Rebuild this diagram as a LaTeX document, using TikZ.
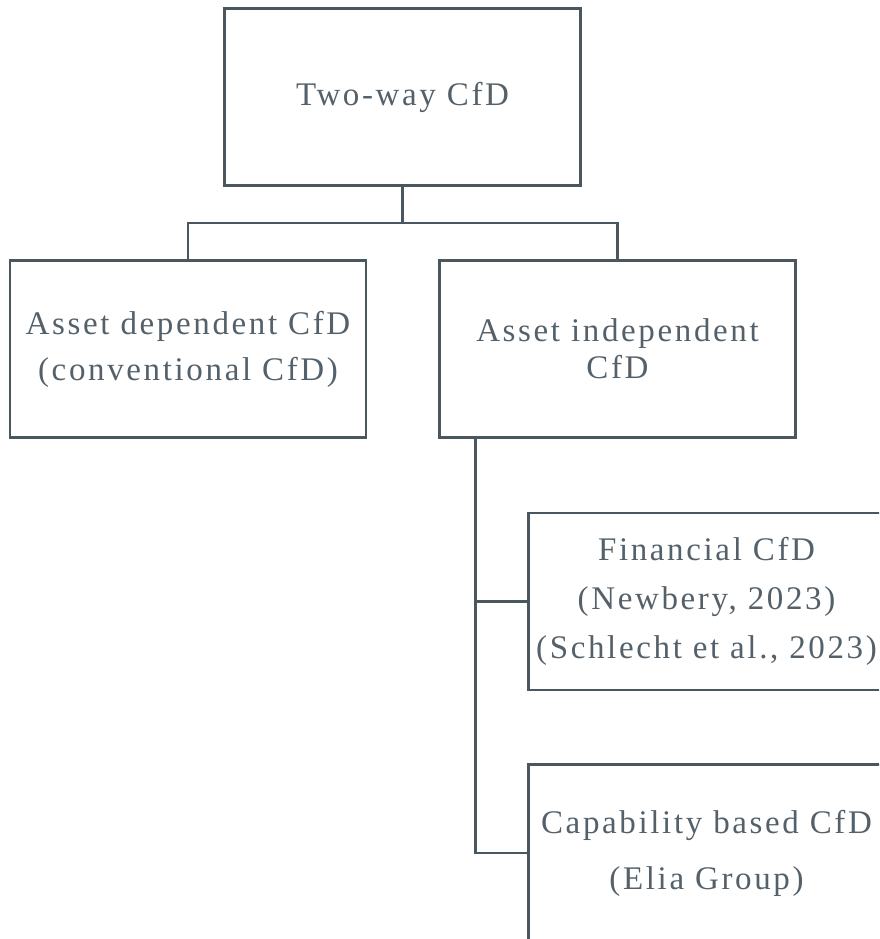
\documentclass[tikz,border=0pt]{standalone}
\usepackage{fontspec}
\setmainfont{Liberation Serif}[LetterSpace=8]
\usepackage{xcolor}
\usepackage{tikz}

\definecolor{cfdline}{HTML}{4B575E}
\definecolor{cfdtext}{HTML}{55616A}
\tikzset{
	cfdbox/.style={draw=cfdline, line width=2.5pt, rectangle, inner sep=0pt,
		minimum width=356pt, minimum height=177pt, align=center, text=cfdtext},
	cfdlink/.style={draw=cfdline, line width=2.5pt},
}

\begin{document}
\begin{tikzpicture}[x=1pt,y=-1pt]
				\useasboundingbox (0,0) rectangle (879,939);
				\clip (0,0) rectangle (879,939);
				
				% top level
				\node[cfdbox, font=\fontsize{33}{37}\selectfont] (twoway) at (402.5,97) {Two-way CfD};
				
				% second level
				\node[cfdbox, font=\fontsize{33}{46}\selectfont] (dep) at (188,349)
					{Asset dependent CfD\\(conventional CfD)};
				\node[cfdbox, font=\fontsize{33}{37}\selectfont] (indep) at (617.5,349)
					{Asset independent\\CfD};
				
				% third level (cut off at the right)
				\node[cfdbox, font=\fontsize{33}{49}\selectfont] (fin) at (706.5,601.5)
					{Financial CfD\\(Newbery, 2023)\\(Schlecht et al., 2023)};
				\node[cfdbox, font=\fontsize{33}{56}\selectfont] (cap) at (706.5,853)
					{Capability based CfD\\(Elia Group)};
				
				\draw[cfdlink] (twoway.south) -- ++(0,36) coordinate (split);
				\draw[cfdlink] (dep.north) |- (split) -| (indep.north);
				
				\coordinate (trunk) at ([xshift=37pt]indep.south west);
				\foreach \x in {fin, cap}{
					\draw[cfdlink] (trunk) |- (\x.west);
				}
			\end{tikzpicture}
\end{document}
